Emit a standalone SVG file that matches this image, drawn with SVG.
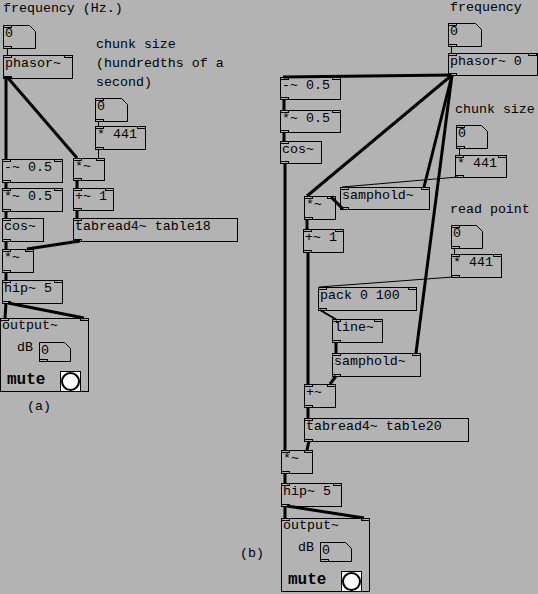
<svg xmlns="http://www.w3.org/2000/svg" width="538" height="594" viewBox="0 0 538 594">
<style>
.bx{fill:none;stroke:#000;stroke-width:1}
.io{fill:none;stroke:#000;stroke-width:1}
.sig{fill:none;stroke:#000;stroke-width:3}
.ctl{fill:none;stroke:#000;stroke-width:1}
.med{fill:none;stroke:#000;stroke-width:2}
text{font-family:"Liberation Mono","DejaVu Sans Mono",monospace;font-size:13.3px;fill:#000}
.b{font-weight:bold;font-size:16px}
</style>
<defs>
<g id="outpanel">
<rect class="bx" x="0.5" y="0.5" width="88" height="73"/>
<rect class="io" x="0.5" y="0.5" width="8" height="2"/>
<rect class="io" x="80.5" y="0.5" width="8" height="2"/>
<text x="2" y="11">output~</text>
<text x="17" y="33">dB</text>
<polygon class="bx" points="39.5,24.5 64.5,24.5 70.5,30.5 70.5,43.5 39.5,43.5"/>
<rect class="io" x="39.5" y="41.5" width="8" height="2"/>
<text x="41" y="36">0</text>
<text class="b" x="7" y="66">mute</text>
<rect x="60.5" y="53.5" width="20" height="20" fill="#fff" stroke="#000" stroke-width="1"/>
<circle cx="70.5" cy="63.5" r="8.5" fill="#fff" stroke="#000" stroke-width="2"/>
</g>
</defs>
<rect x="0" y="0" width="538" height="594" fill="#b3b3b3"/>

<g id="connectors">
<!-- (a) -->
<line class="ctl" x1="7.5" y1="48" x2="7.5" y2="55"/>
<line class="sig" x1="6" y1="78" x2="6" y2="159"/>
<line class="sig" x1="8" y1="78" x2="77" y2="158"/>
<line class="ctl" x1="98.5" y1="121" x2="98.5" y2="126"/>
<line class="ctl" x1="98.5" y1="149" x2="98.5" y2="158"/>
<line class="sig" x1="6" y1="182" x2="6" y2="188"/>
<line class="sig" x1="6" y1="211" x2="6" y2="218"/>
<line class="sig" x1="6" y1="241" x2="6" y2="249"/>
<line class="sig" x1="77" y1="180" x2="77" y2="188"/>
<line class="sig" x1="77" y1="210" x2="77" y2="218"/>
<line class="sig" x1="80" y1="241" x2="27" y2="249"/>
<line class="sig" x1="6" y1="272" x2="6" y2="280"/>
<line class="sig" x1="6" y1="303" x2="5" y2="318"/>
<line class="sig" x1="8" y1="303" x2="84" y2="318"/>
<!-- (b) -->
<line class="ctl" x1="451.5" y1="46" x2="451.5" y2="53"/>
<line class="sig" x1="451" y1="75" x2="283" y2="77"/>
<line class="sig" x1="452" y1="75" x2="307" y2="196"/>
<line class="sig" x1="452" y1="75" x2="424" y2="187"/>
<line class="sig" x1="452" y1="75" x2="416" y2="353"/>
<line class="sig" x1="284" y1="99" x2="284" y2="110"/>
<line class="sig" x1="284" y1="132" x2="284" y2="141"/>
<line class="sig" x1="285" y1="163" x2="285" y2="450"/>
<line class="ctl" x1="459.5" y1="148" x2="459.5" y2="155"/>
<line class="ctl" x1="458" y1="177" x2="342" y2="187"/>
<line class="sig" x1="343" y1="209" x2="331" y2="197"/>
<line class="sig" x1="307" y1="219" x2="307" y2="229"/>
<line class="sig" x1="308" y1="252" x2="308" y2="384"/>
<line class="ctl" x1="454.5" y1="248" x2="454.5" y2="254"/>
<line class="ctl" x1="453" y1="277" x2="319" y2="287"/>
<line class="med" x1="320" y1="310" x2="337" y2="320"/>
<line class="sig" x1="336" y1="342" x2="336" y2="353"/>
<line class="sig" x1="336" y1="376" x2="330" y2="384"/>
<line class="sig" x1="308" y1="407" x2="308" y2="418"/>
<line class="sig" x1="309" y1="441" x2="307" y2="450"/>
<line class="sig" x1="285" y1="473" x2="285" y2="483"/>
<line class="sig" x1="285" y1="506" x2="285" y2="518"/>
<line class="sig" x1="287" y1="506" x2="364" y2="518"/>
</g>

<!-- ===== (a) ===== -->
<text id="lbl-freq-a" x="3" y="12">frequency (Hz.)</text>
<g id="num-freq-a">
<polygon class="bx" points="3.5,25.5 29.5,25.5 35.5,31.5 35.5,48.5 3.5,48.5"/>
<rect class="io" x="3.5" y="25.5" width="8" height="2"/>
<rect class="io" x="3.5" y="46.5" width="8" height="2"/>
<text x="5" y="37">0</text>
</g>
<g id="phasor-a">
<rect class="bx" x="3.5" y="55.5" width="69" height="23"/>
<rect class="io" x="3.5" y="55.5" width="8" height="2"/>
<rect class="io" x="64.5" y="55.5" width="8" height="2"/>
<rect x="3.5" y="76.5" width="8" height="2" fill="#000" stroke="#000"/>
<text x="5" y="67">phasor~</text>
</g>
<text id="lbl-chunk-a" x="96" y="48">chunk size</text>
<text x="96" y="67">(hundredths of a</text>
<text x="96" y="86">second)</text>
<g id="num-chunk-a">
<polygon class="bx" points="95.5,98.5 121.5,98.5 127.5,104.5 127.5,121.5 95.5,121.5"/>
<rect class="io" x="95.5" y="98.5" width="8" height="2"/>
<rect class="io" x="95.5" y="119.5" width="8" height="2"/>
<text x="97" y="110">0</text>
</g>
<g id="mul441-a">
<rect class="bx" x="95.5" y="126.5" width="50" height="23"/>
<rect class="io" x="95.5" y="126.5" width="8" height="2"/>
<rect class="io" x="137.5" y="126.5" width="8" height="2"/>
<rect class="io" x="95.5" y="147.5" width="8" height="2"/>
<text x="97" y="138">* 441</text>
</g>
<g id="mulsig-a1">
<rect class="bx" x="73.5" y="158.5" width="31" height="22"/>
<rect class="io" x="73.5" y="158.5" width="8" height="2"/>
<rect class="io" x="96.5" y="158.5" width="8" height="2"/>
<rect class="io" x="73.5" y="178.5" width="8" height="2"/>
<text x="75" y="170">*~</text>
</g>
<g id="minus-a">
<rect class="bx" x="2.5" y="159.5" width="60" height="23"/>
<rect class="io" x="2.5" y="159.5" width="8" height="2"/>
<rect class="io" x="54.5" y="159.5" width="8" height="2"/>
<rect class="io" x="2.5" y="180.5" width="8" height="2"/>
<text x="4" y="171">-~ 0.5</text>
</g>
<g id="mul05-a">
<rect class="bx" x="2.5" y="188.5" width="60" height="23"/>
<rect class="io" x="2.5" y="188.5" width="8" height="2"/>
<rect class="io" x="54.5" y="188.5" width="8" height="2"/>
<rect class="io" x="2.5" y="209.5" width="8" height="2"/>
<text x="4" y="200">*~ 0.5</text>
</g>
<g id="cos-a">
<rect class="bx" x="2.5" y="218.5" width="41" height="23"/>
<rect class="io" x="2.5" y="218.5" width="8" height="2"/>
<rect class="io" x="2.5" y="239.5" width="8" height="2"/>
<text x="4" y="230">cos~</text>
</g>
<g id="add1-a">
<rect class="bx" x="73.5" y="188.5" width="40" height="22"/>
<rect class="io" x="73.5" y="188.5" width="8" height="2"/>
<rect class="io" x="105.5" y="188.5" width="8" height="2"/>
<rect class="io" x="73.5" y="208.5" width="8" height="2"/>
<text x="75" y="200">+~ 1</text>
</g>
<g id="tabread-a">
<rect class="bx" x="73.5" y="218.5" width="164" height="23"/>
<rect class="io" x="73.5" y="218.5" width="8" height="2"/>
<rect class="io" x="73.5" y="239.5" width="8" height="2"/>
<text x="75" y="230">tabread4~ table18</text>
</g>
<g id="mulsig-a2">
<rect class="bx" x="2.5" y="249.5" width="31" height="23"/>
<rect class="io" x="2.5" y="249.5" width="8" height="2"/>
<rect class="io" x="25.5" y="249.5" width="8" height="2"/>
<rect class="io" x="2.5" y="270.5" width="8" height="2"/>
<text x="4" y="261">*~</text>
</g>
<g id="hip-a">
<rect class="bx" x="2.5" y="280.5" width="60" height="23"/>
<rect class="io" x="2.5" y="280.5" width="8" height="2"/>
<rect class="io" x="54.5" y="280.5" width="8" height="2"/>
<rect class="io" x="2.5" y="301.5" width="8" height="2"/>
<text x="4" y="292">hip~ 5</text>
</g>
<g id="output-a"><use href="#outpanel" transform="translate(0,318)"/></g>
<text id="lbl-a" x="27" y="410">(a)</text>

<!-- ===== (b) ===== -->
<text id="lbl-freq-b" x="450" y="11">frequency</text>
<g id="num-freq-b">
<polygon class="bx" points="448.5,23.5 475.5,23.5 481.5,29.5 481.5,46.5 448.5,46.5"/>
<rect class="io" x="448.5" y="23.5" width="8" height="2"/>
<rect class="io" x="448.5" y="44.5" width="8" height="2"/>
<text x="450" y="35">0</text>
</g>
<g id="phasor-b">
<rect class="bx" x="448.5" y="53.5" width="89" height="22"/>
<rect class="io" x="448.5" y="53.5" width="8" height="2"/>
<rect class="io" x="528.5" y="53.5" width="8" height="2"/>
<rect class="io" x="448.5" y="73.5" width="8" height="2"/>
<text x="450" y="65">phasor~ 0</text>
</g>
<g id="minus-b">
<rect class="bx" x="280.5" y="77.5" width="60" height="22"/>
<rect class="io" x="280.5" y="77.5" width="8" height="2"/>
<rect class="io" x="332.5" y="77.5" width="8" height="2"/>
<rect class="io" x="280.5" y="97.5" width="8" height="2"/>
<text x="282" y="89">-~ 0.5</text>
</g>
<g id="mul05-b">
<rect class="bx" x="280.5" y="110.5" width="60" height="22"/>
<rect class="io" x="280.5" y="110.5" width="8" height="2"/>
<rect class="io" x="332.5" y="110.5" width="8" height="2"/>
<rect class="io" x="280.5" y="130.5" width="8" height="2"/>
<text x="282" y="122">*~ 0.5</text>
</g>
<g id="cos-b">
<rect class="bx" x="280.5" y="141.5" width="41" height="22"/>
<rect class="io" x="280.5" y="141.5" width="8" height="2"/>
<rect class="io" x="280.5" y="161.5" width="8" height="2"/>
<text x="282" y="153">cos~</text>
</g>
<text id="lbl-chunk-b" x="455" y="113">chunk size</text>
<g id="num-chunk-b">
<polygon class="bx" points="456.5,125.5 481.5,125.5 487.5,131.5 487.5,148.5 456.5,148.5"/>
<rect class="io" x="456.5" y="125.5" width="8" height="2"/>
<rect class="io" x="456.5" y="146.5" width="8" height="2"/>
<text x="458" y="137">0</text>
</g>
<g id="mul441-b">
<rect class="bx" x="455.5" y="155.5" width="51" height="22"/>
<rect class="io" x="455.5" y="155.5" width="8" height="2"/>
<rect class="io" x="498.5" y="155.5" width="8" height="2"/>
<rect class="io" x="455.5" y="175.5" width="8" height="2"/>
<text x="457" y="167">* 441</text>
</g>
<g id="samphold-b1">
<rect class="bx" x="340.5" y="187.5" width="89" height="22"/>
<rect class="io" x="340.5" y="187.5" width="8" height="2"/>
<rect class="io" x="421.5" y="187.5" width="8" height="2"/>
<rect class="io" x="340.5" y="207.5" width="8" height="2"/>
<text x="342" y="199">samphold~</text>
</g>
<g id="mulsig-b1">
<rect class="bx" x="304.5" y="196.5" width="31" height="23"/>
<rect class="io" x="304.5" y="196.5" width="8" height="2"/>
<rect class="io" x="327.5" y="196.5" width="8" height="2"/>
<rect class="io" x="304.5" y="217.5" width="8" height="2"/>
<text x="306" y="208">*~</text>
</g>
<g id="add1-b">
<rect class="bx" x="303.5" y="229.5" width="40" height="23"/>
<rect class="io" x="303.5" y="229.5" width="8" height="2"/>
<rect class="io" x="335.5" y="229.5" width="8" height="2"/>
<rect class="io" x="303.5" y="250.5" width="8" height="2"/>
<text x="305" y="241">+~ 1</text>
</g>
<text id="lbl-read-b" x="450" y="213">read point</text>
<g id="num-read-b">
<polygon class="bx" points="451.5,225.5 476.5,225.5 482.5,231.5 482.5,248.5 451.5,248.5"/>
<rect class="io" x="451.5" y="225.5" width="8" height="2"/>
<rect class="io" x="451.5" y="246.5" width="8" height="2"/>
<text x="453" y="237">0</text>
</g>
<g id="mul441-b2">
<rect class="bx" x="451.5" y="254.5" width="50" height="23"/>
<rect class="io" x="451.5" y="254.5" width="8" height="2"/>
<rect class="io" x="493.5" y="254.5" width="8" height="2"/>
<rect class="io" x="451.5" y="275.5" width="8" height="2"/>
<text x="453" y="266">* 441</text>
</g>
<g id="pack-b">
<rect class="bx" x="318.5" y="287.5" width="98" height="23"/>
<rect class="io" x="318.5" y="287.5" width="8" height="2"/>
<rect class="io" x="408.5" y="287.5" width="8" height="2"/>
<rect class="io" x="318.5" y="308.5" width="8" height="2"/>
<text x="320" y="299">pack 0 100</text>
</g>
<g id="line-b">
<rect class="bx" x="332.5" y="319.5" width="50" height="23"/>
<rect class="io" x="332.5" y="319.5" width="8" height="2"/>
<rect class="io" x="374.5" y="319.5" width="8" height="2"/>
<rect class="io" x="332.5" y="340.5" width="8" height="2"/>
<text x="334" y="331">line~</text>
</g>
<g id="samphold-b2">
<rect class="bx" x="332.5" y="353.5" width="88" height="23"/>
<rect class="io" x="332.5" y="353.5" width="8" height="2"/>
<rect class="io" x="412.5" y="353.5" width="8" height="2"/>
<rect class="io" x="332.5" y="374.5" width="8" height="2"/>
<text x="334" y="365">samphold~</text>
</g>
<g id="add-b">
<rect class="bx" x="304.5" y="384.5" width="31" height="23"/>
<rect class="io" x="304.5" y="384.5" width="8" height="2"/>
<rect class="io" x="327.5" y="384.5" width="8" height="2"/>
<rect class="io" x="304.5" y="405.5" width="8" height="2"/>
<text x="306" y="396">+~</text>
</g>
<g id="tabread-b">
<rect class="bx" x="304.5" y="418.5" width="164" height="23"/>
<rect class="io" x="304.5" y="418.5" width="8" height="2"/>
<rect class="io" x="304.5" y="439.5" width="8" height="2"/>
<text x="306" y="430">tabread4~ table20</text>
</g>
<g id="mulsig-b2">
<rect class="bx" x="281.5" y="450.5" width="31" height="23"/>
<rect class="io" x="281.5" y="450.5" width="8" height="2"/>
<rect class="io" x="304.5" y="450.5" width="8" height="2"/>
<rect class="io" x="281.5" y="471.5" width="8" height="2"/>
<text x="283" y="462">*~</text>
</g>
<g id="hip-b">
<rect class="bx" x="281.5" y="483.5" width="60" height="23"/>
<rect class="io" x="281.5" y="483.5" width="8" height="2"/>
<rect class="io" x="333.5" y="483.5" width="8" height="2"/>
<rect class="io" x="281.5" y="504.5" width="8" height="2"/>
<text x="283" y="495">hip~ 5</text>
</g>
<g id="output-b"><use href="#outpanel" transform="translate(281,518)"/></g>
<text id="lbl-b" x="240" y="557">(b)</text>
</svg>
